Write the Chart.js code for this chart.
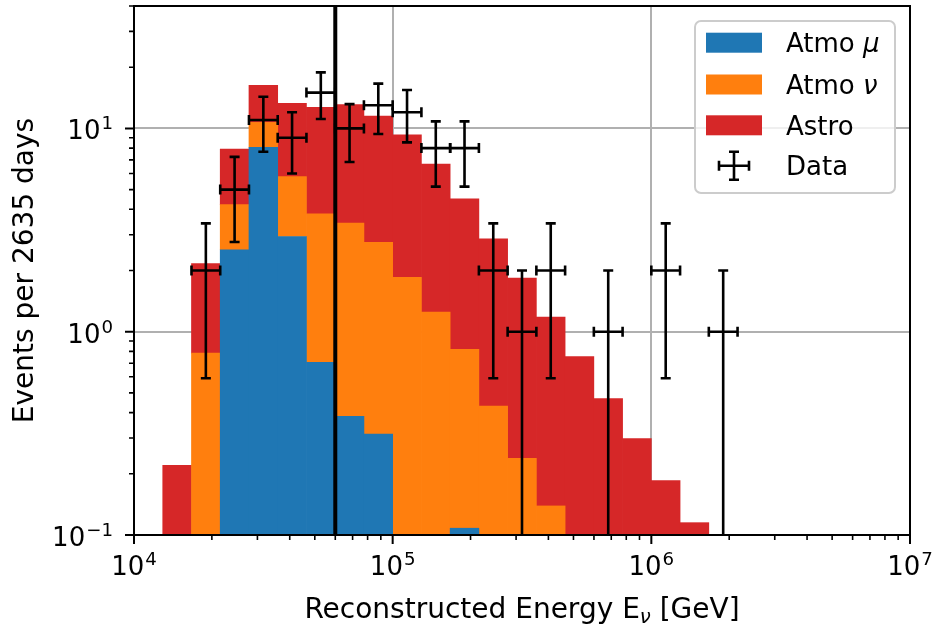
<!DOCTYPE html>
<html lang="en">
<head>
<meta charset="UTF-8">
<title>Reconstructed energy distribution</title>
<script src="https://cdn.jsdelivr.net/npm/chart.js"></script>
<style>
  html, body { margin: 0; padding: 0; background: #fff; }
  #wrap { width: 934px; height: 628px; position: relative; }
</style>
</head>
<body>
<div id="wrap"><canvas id="hist"></canvas></div>
<script>
// bin edges in GeV (9 log bins per decade), bins 1..20
const binEdges = [12915, 16681, 21544, 27826, 35938, 46416, 59948, 77426, 100000,
  129155, 166810, 215443, 278256, 359381, 464159, 599484, 774264, 1000000,
  1291550, 1668101, 2154435];

// expected events per bin, stacked mu -> nu -> astro
const atmoMu = [null, null, 2.53, 8.07, 2.94, 0.707, 0.383, 0.314, null, null,
  0.108, null, null, null, null, null, null, null, null, null];
const atmoNu = [null, 0.785, 1.69, 2.63, 2.85, 3.09, 3.04, 2.44, 1.85, 1.25,
  0.711, 0.431, 0.238, 0.139, null, null, null, null, null, null];
const astro = [0.22, 1.375, 3.70, 5.6, 7.5, 8.9, 9.68, 8.75, 7.46, 5.43,
  3.68, 2.43, 1.60, 1.04, 0.754, 0.469, 0.298, 0.185, 0.115, null];

// observed counts and their errors
const dataCounts = [null, 2, 5, 11, 9, 15, 10, 13, 12, 8, 8, 2, 1, 2, null, 1, null, 2, null, 1];
const dataErr = [null, 1.41, 2.24, 3.32, 3.00, 3.87, 3.16, 3.61, 3.46, 2.83, 2.83,
  1.41, 1.00, 1.41, null, 1.00, null, 1.41, null, 1.00];

const vetoEnergy = 6e4;

const xMajor = [1e4, 1e5, 1e6, 1e7];
const xExp = ['4', '5', '6', '7'];
const yMajor = [0.1, 1, 10];
const yExp = ['\u22121', '0', '1'];

const FS = 26;      // tick labels, legend
const FS_LAB = 28;  // axis titles
const FONT = '"DejaVu Sans"';
const colors = { mu: '#1f77b4', nu: '#ff7f0e', astro: '#d62728' };

const centers = binEdges.slice(0, -1).map((lo, i) => Math.sqrt(lo * binEdges[i + 1]));
const toXY = arr => arr.map((v, i) => ({ x: centers[i], y: v }));

function minors(majors) {
  const out = [];
  for (let i = 0; i < majors.length - 1; i++) {
    for (let m = 2; m <= 9; m++) out.push(majors[i] * m);
  }
  return out;
}

function drawPow(ctx, exp, x, y, align) {
  ctx.font = FS + 'px ' + FONT;
  const wb = ctx.measureText('10').width;
  ctx.font = (FS * 0.7) + 'px ' + FONT;
  const we = ctx.measureText(exp).width;
  const w = wb + 1 + we;
  const x0 = align === 'center' ? x - w / 2 : x - w;
  ctx.textAlign = 'left';
  ctx.textBaseline = 'alphabetic';
  ctx.font = FS + 'px ' + FONT;
  ctx.fillText('10', x0, y);
  ctx.font = (FS * 0.7) + 'px ' + FONT;
  ctx.fillText(exp, x0 + wb + 1, y - 10);
}

function errCross(ctx, x, y, x1, x2, y1, y2, cap) {
  ctx.beginPath();
  ctx.moveTo(x1, y); ctx.lineTo(x2, y);
  ctx.moveTo(x, y1); ctx.lineTo(x, y2);
  ctx.moveTo(x1, y - cap); ctx.lineTo(x1, y + cap);
  ctx.moveTo(x2, y - cap); ctx.lineTo(x2, y + cap);
  ctx.moveTo(x - cap, y1); ctx.lineTo(x + cap, y1);
  ctx.moveTo(x - cap, y2); ctx.lineTo(x + cap, y2);
  ctx.stroke();
}

const decorations = {
  id: 'decorations',
  afterDraw(chart) {
    const ctx = chart.ctx;
    const xs = chart.scales.x, ys = chart.scales.y;
    const a = chart.chartArea;
    ctx.save();

    // vertical threshold line
    ctx.strokeStyle = '#000';
    ctx.lineWidth = 4;
    const vx = xs.getPixelForValue(vetoEnergy);
    ctx.beginPath();
    ctx.moveTo(vx, a.top); ctx.lineTo(vx, a.bottom);
    ctx.stroke();

    // data points with error bars
    ctx.save();
    ctx.beginPath();
    ctx.rect(a.left, a.top, a.right - a.left, a.bottom - a.top);
    ctx.clip();
    ctx.lineWidth = 2.6;
    ctx.lineCap = 'butt';
    dataCounts.forEach((n, i) => {
      if (n === null) return;
      const px = xs.getPixelForValue(centers[i]);
      const py = ys.getPixelForValue(n);
      const lo = n - dataErr[i];
      const yLo = lo > 0 ? ys.getPixelForValue(lo) : a.bottom + 20;
      const yHi = ys.getPixelForValue(n + dataErr[i]);
      errCross(ctx, px, py, xs.getPixelForValue(binEdges[i]), xs.getPixelForValue(binEdges[i + 1]), yHi, yLo, 5);
    });
    ctx.restore();

    // frame
    ctx.lineWidth = 2;
    ctx.strokeStyle = '#000';
    ctx.strokeRect(a.left, a.top, a.right - a.left, a.bottom - a.top);

    // tick marks
    ctx.beginPath();
    xMajor.forEach(v => { const p = xs.getPixelForValue(v); ctx.moveTo(p, a.bottom); ctx.lineTo(p, a.bottom + 9); });
    yMajor.forEach(v => { const p = ys.getPixelForValue(v); ctx.moveTo(a.left, p); ctx.lineTo(a.left - 9, p); });
    ctx.stroke();
    ctx.lineWidth = 1.6;
    ctx.beginPath();
    minors(xMajor).forEach(v => { const p = xs.getPixelForValue(v); ctx.moveTo(p, a.bottom); ctx.lineTo(p, a.bottom + 5); });
    minors(yMajor.concat([100])).filter(v => v <= ys.max).forEach(v => {
      const p = ys.getPixelForValue(v); ctx.moveTo(a.left, p); ctx.lineTo(a.left - 5, p);
    });
    ctx.stroke();

    // tick labels
    ctx.fillStyle = '#000';
    xMajor.forEach((v, i) => drawPow(ctx, xExp[i], xs.getPixelForValue(v), a.bottom + 40, 'center'));
    yMajor.forEach((v, i) => drawPow(ctx, yExp[i], a.left - 21, ys.getPixelForValue(v) + 11, 'right'));

    // axis titles
    const t1 = 'Reconstructed Energy E';
    const t2 = ' [GeV]';
    ctx.font = FS_LAB + 'px ' + FONT;
    const w1 = ctx.measureText(t1).width, w3 = ctx.measureText(t2).width;
    ctx.font = 'italic ' + (FS_LAB * 0.7) + 'px ' + FONT;
    const w2 = ctx.measureText('\u03bd').width;
    const tx = (a.left + a.right) / 2 - (w1 + w2 + w3) / 2;
    const ty = 618;
    ctx.textAlign = 'left';
    ctx.textBaseline = 'alphabetic';
    ctx.font = FS_LAB + 'px ' + FONT;
    ctx.fillText(t1, tx, ty);
    ctx.font = 'italic ' + (FS_LAB * 0.7) + 'px ' + FONT;
    ctx.fillText('\u03bd', tx + w1, ty + 5);
    ctx.font = FS_LAB + 'px ' + FONT;
    ctx.fillText(t2, tx + w1 + w2, ty);

    ctx.save();
    ctx.translate(33, (a.top + a.bottom) / 2);
    ctx.rotate(-Math.PI / 2);
    ctx.textAlign = 'center';
    ctx.fillText('Events per 2635 days', 0, 0);
    ctx.restore();

    // legend
    const lx = 695, ly = 21, lw = 200, lh = 172;
    ctx.beginPath();
    ctx.roundRect(lx, ly, lw, lh, 6);
    ctx.fillStyle = 'rgba(255,255,255,0.8)';
    ctx.fill();
    ctx.strokeStyle = '#cccccc';
    ctx.lineWidth = 2;
    ctx.stroke();

    const rows = [
      { y: 42.7, color: colors.mu, text: 'Atmo ', math: '\u03bc' },
      { y: 84.5, color: colors.nu, text: 'Atmo ', math: '\u03bd' },
      { y: 125.3, color: colors.astro, text: 'Astro', math: '' },
      { y: 165.7, color: null, text: 'Data', math: '' }
    ];
    rows.forEach(r => {
      if (r.color) {
        ctx.fillStyle = r.color;
        ctx.fillRect(706, r.y - 10, 56, 20);
      } else {
        ctx.strokeStyle = '#000';
        ctx.lineWidth = 2.6;
        errCross(ctx, 734, r.y, 719, 749, r.y - 14, r.y + 14, 5);
      }
      ctx.fillStyle = '#000';
      ctx.textAlign = 'left';
      ctx.font = FS + 'px ' + FONT;
      ctx.fillText(r.text, 786, r.y + 9.5);
      if (r.math) {
        const w = ctx.measureText(r.text).width;
        ctx.font = 'italic ' + FS + 'px ' + FONT;
        ctx.fillText(r.math, 786 + w, r.y + 9.5);
      }
    });

    ctx.restore();
  }
};

new Chart(document.getElementById('hist'), {
  type: 'bar',
  data: {
    datasets: [
      { label: 'Atmo \u03bc', data: toXY(atmoMu), backgroundColor: colors.mu },
      { label: 'Atmo \u03bd', data: toXY(atmoNu), backgroundColor: colors.nu },
      { label: 'Astro', data: toXY(astro), backgroundColor: colors.astro }
    ]
  },
  options: {
    responsive: true,
    maintainAspectRatio: false,
    animation: false,
    devicePixelRatio: 1,
    layout: { padding: { left: 0, top: 6, right: 24, bottom: 0 } },
    datasets: { bar: { categoryPercentage: 1.0, barPercentage: 1.0, borderWidth: 0 } },
    plugins: { legend: { display: false }, tooltip: { enabled: false } },
    scales: {
      x: {
        type: 'logarithmic',
        min: 1e4, max: 1e7,
        stacked: true,
        offset: false,
        z: 1,
        grid: { offset: false, color: '#b0b0b0', lineWidth: 2, drawTicks: false },
        border: { display: false },
        ticks: { display: false },
        afterBuildTicks: s => { s.ticks = xMajor.map(v => ({ value: v })); },
        afterFit: s => { s.height = 93; }
      },
      y: {
        type: 'logarithmic',
        min: 0.1, max: 40,
        stacked: true,
        z: 1,
        grid: { color: '#b0b0b0', lineWidth: 2, drawTicks: false },
        border: { display: false },
        ticks: { display: false },
        afterBuildTicks: s => { s.ticks = yMajor.map(v => ({ value: v })); },
        afterFit: s => { s.width = 134; }
      }
    }
  },
  plugins: [decorations]
});
</script>
</body>
</html>
